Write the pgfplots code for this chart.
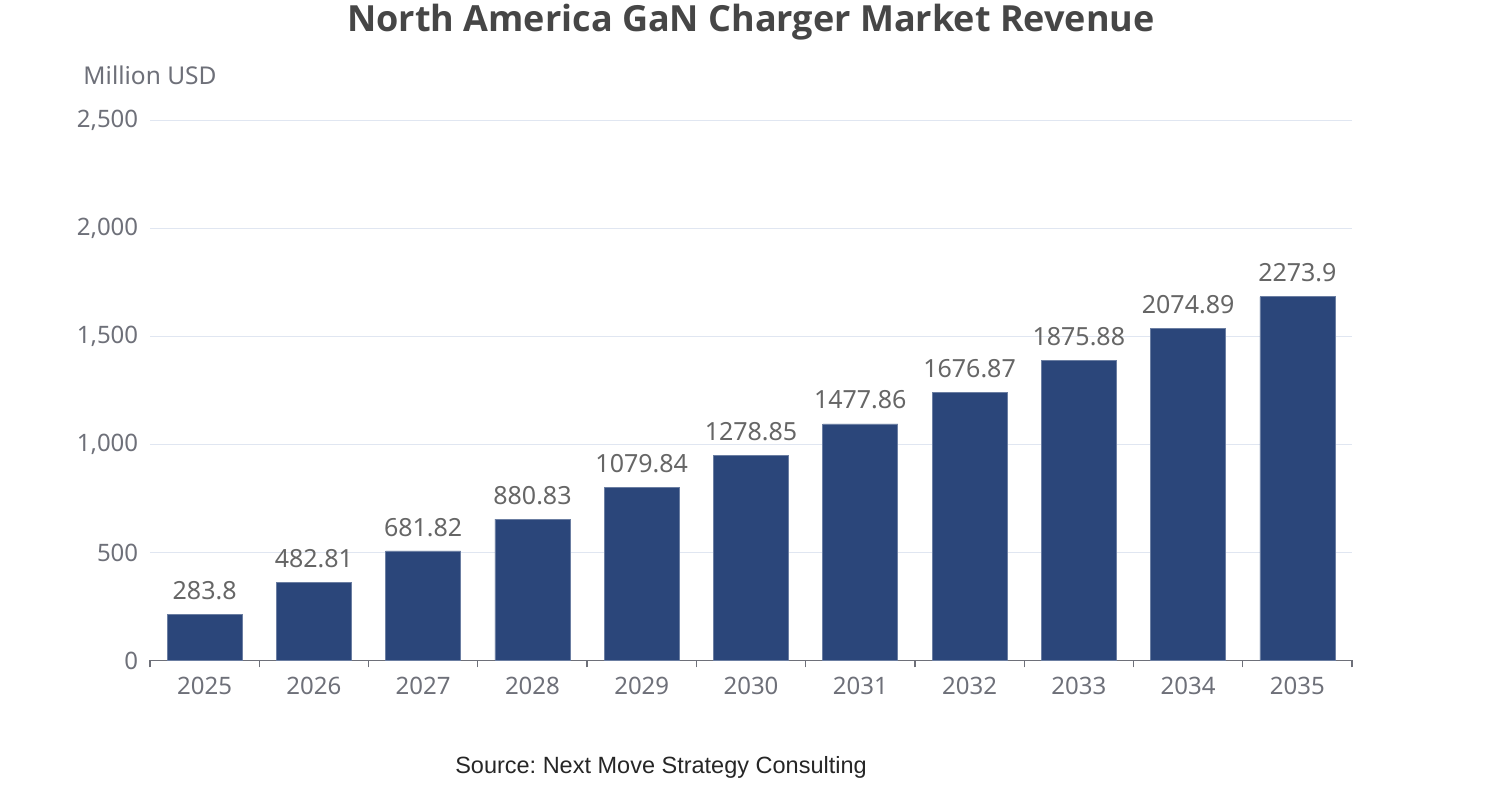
\documentclass[border=0pt]{standalone}
\usepackage{pgfplots}
\pgfplotsset{compat=1.18}
\usepackage{fontspec}
\setmainfont{Noto Sans}
\newfontfamily\srcfont{Liberation Sans}
\newfontfamily\titfont{Open Sans}
\definecolor{barc}{RGB}{43,70,122}
\definecolor{gridc}{RGB}{224,230,241}
\definecolor{axc}{RGB}{110,112,121}
\definecolor{valc}{RGB}{102,102,102}
\definecolor{titc}{RGB}{70,70,70}
\frenchspacing
\begin{document}
\begin{tikzpicture}
\path (0,0) rectangle (1502pt,800pt);
\begin{axis}[
  at={(150pt,139.5pt)}, anchor=south west,
  scale only axis, width=1202pt, height=540pt,
  xmin=-0.5, xmax=10.5, ymin=0, ymax=2500,
  ybar, bar width=75pt,
  clip=false,
  axis x line*=bottom, axis y line*=left,
  x axis line style={-, color=axc, line width=1.2pt},
  y axis line style={draw=none},
  xtick={0,...,10},
  xticklabels={2025,2026,2027,2028,2029,2030,2031,2032,2033,2034,2035},
  major x tick style={draw=none},
  minor xtick={-0.5,0.5,...,10.5},
  minor x tick style={color=axc, line width=1.2pt},
  minor tick length=7pt,
  tick align=outside,
  ytick={0,500,...,2500},
  ytick style={draw=none},
  ymajorgrids, grid style={color=gridc, line width=1pt},
  /pgf/number format/assume math mode=true,
  /pgf/number format/1000 sep={,},
  ticklabel style={font=\fontsize{24}{28}\selectfont, color=axc},
  xticklabel style={yshift=-9pt},
  yticklabel style={xshift=-4pt},
  point meta=explicit symbolic,
  nodes near coords={\pgfplotspointmeta},
  nodes near coords style={font=\fontsize{25}{29}\selectfont, color=valc, anchor=south, yshift=11pt},
]
\addplot[fill=barc, draw=barc!70!white, line width=0.6pt] coordinates {
 (0,214) [283.8]
 (1,362) [482.81]
 (2,507) [681.82]
 (3,654) [880.83]
 (4,802) [1079.84]
 (5,950) [1278.85]
 (6,1095) [1477.86]
 (7,1243) [1676.87]
 (8,1391) [1875.88]
 (9,1538) [2074.89]
 (10,1684) [2273.9]
};
\end{axis}
\node[font=\fontsize{36}{42}\selectfont\titfont\bfseries, color=titc] at (751pt,778pt) {North America GaN Charger Market Revenue};
\node[font=\fontsize{24.5}{28}\selectfont, color=axc] at (150pt,725pt) {Million USD};
\node[font=\fontsize{23.5}{28}\selectfont\srcfont, color=black!85] at (661pt,33pt) {Source: Next Move Strategy Consulting};
\end{tikzpicture}
\end{document}
